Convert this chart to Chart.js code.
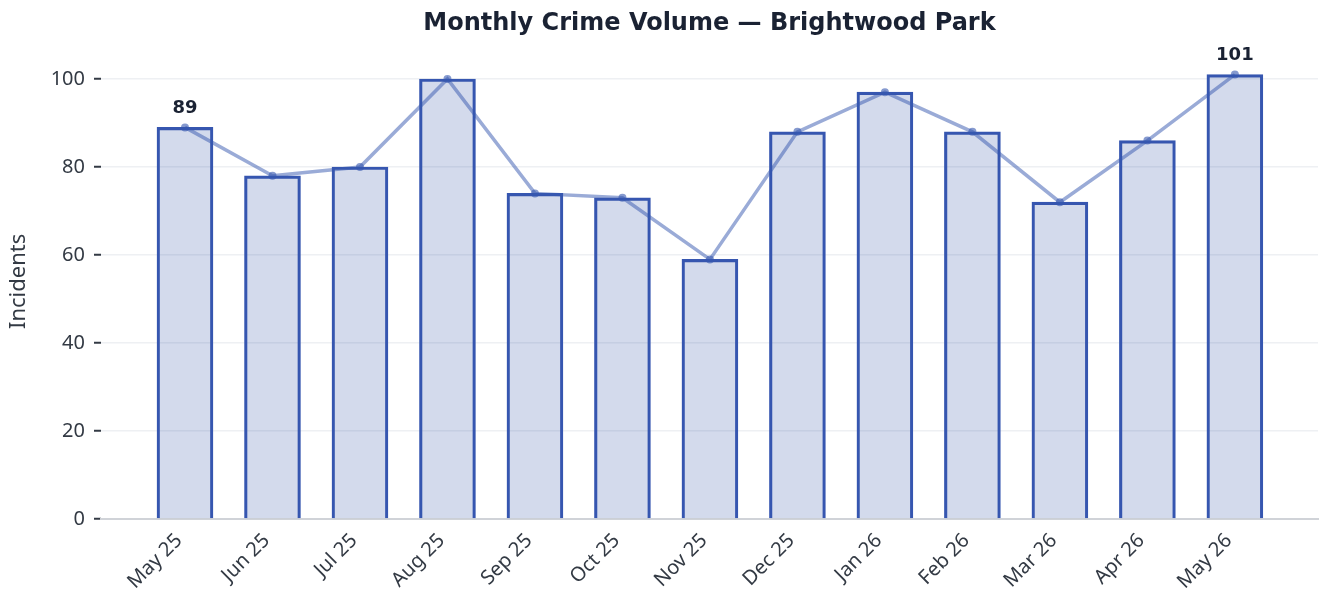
<!DOCTYPE html>
<html>
<head>
<meta charset="utf-8">
<script src="https://cdn.jsdelivr.net/npm/chart.js@4.4.1/dist/chart.umd.min.js"></script>
<style>
  html, body { margin: 0; padding: 0; background: #ffffff; }
  #wrap { width: 1322px; height: 591px; }
</style>
</head>
<body>
<div id="wrap"><canvas id="c" width="1322" height="591"></canvas></div>
<script>
const categories = ["May 25","Jun 25","Jul 25","Aug 25","Sep 25","Oct 25","Nov 25","Dec 25","Jan 26","Feb 26","Mar 26","Apr 26","May 26"];
const incidents = [89, 78, 80, 100, 74, 73, 59, 88, 97, 88, 72, 86, 101];
const yTicks = [0, 20, 40, 60, 80, 100];
const annotatedIdx = [0, 12];

const points = incidents.map((v, i) => ({ x: i, y: v }));

const labelPlugin = {
  id: 'endLabels',
  afterDatasetsDraw(chart) {
    const meta = chart.getDatasetMeta(1);
    const ctx = chart.ctx;
    ctx.save();
    ctx.font = 'bold 18px "DejaVu Sans"';
    ctx.fillStyle = '#1a2233';
    ctx.textAlign = 'center';
    ctx.textBaseline = 'bottom';
    annotatedIdx.forEach(i => {
      const el = meta.data[i];
      ctx.fillText(String(incidents[i]), el.x, el.y - 10);
    });
    ctx.restore();
  }
};

new Chart(document.getElementById('c'), {
  data: {
    datasets: [
      {
        type: 'bar',
        data: points,
        backgroundColor: 'rgba(54, 87, 170, 0.22)',
        borderColor: '#3656b0',
        borderWidth: 2.5,
        barThickness: 56,
        order: 2
      },
      {
        type: 'line',
        data: points,
        borderColor: 'rgba(54, 87, 175, 0.5)',
        backgroundColor: 'rgba(54, 87, 175, 0.6)',
        borderWidth: 3.5,
        pointRadius: 4,
        pointBorderWidth: 0,
        tension: 0,
        order: 1
      }
    ]
  },
  options: {
    responsive: false,
    animation: false,
    devicePixelRatio: 1,
    layout: { padding: { left: 0, right: 1, top: 0, bottom: 0 } },
    plugins: {
      legend: { display: false },
      tooltip: { enabled: false },
      title: {
        display: true,
        fullSize: false,
        text: 'Monthly Crime Volume — Brightwood Park',
        color: '#1a2233',
        font: { family: 'DejaVu Sans', size: 24, weight: 'bold' },
        padding: { top: 9, bottom: 6 }
      }
    },
    scales: {
      x: {
        type: 'linear',
        offset: false,
        min: -0.96,
        max: 12.95,
        afterBuildTicks(scale) {
          scale.ticks = categories.map((c, i) => ({ value: i }));
        },
        afterFit(scale) { scale.height = 72; },
        ticks: {
          autoSkip: false,
          maxRotation: 45,
          minRotation: 45,
          padding: 2,
          labelOffset: -6,
          color: '#333a44',
          font: { family: 'Noto Sans', size: 20 },
          callback: (v) => categories[v]
        },
        grid: { display: false },
        border: { display: true, color: '#d0d3d8', width: 2 }
      },
      y: {
        min: 0,
        max: 108,
        afterBuildTicks(scale) {
          scale.ticks = yTicks.map(v => ({ value: v }));
        },
        afterFit(scale) { scale.width = 101; },
        ticks: {
          color: '#333a44',
          padding: 9,
          font: { family: 'Noto Sans', size: 20 }
        },
        grid: {
          color: '#eef0f3',
          lineWidth: 1.5,
          tickLength: 7,
          tickColor: '#333a44',
          tickWidth: 2
        },
        border: { display: false },
        title: {
          display: true,
          text: 'Incidents',
          color: '#333a44',
          font: { family: 'Noto Sans', size: 22 },
          padding: { top: 6, bottom: 0 }
        }
      }
    }
  },
  plugins: [labelPlugin]
});
</script>
</body>
</html>
